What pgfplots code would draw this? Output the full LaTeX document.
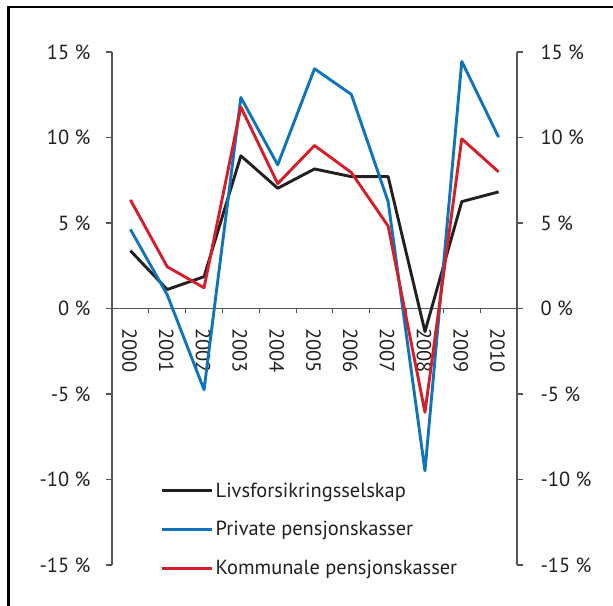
\documentclass[border=0pt]{standalone}
\usepackage{pgfplots}
\pgfplotsset{compat=1.18}
\usepackage{fontspec}
\setmainfont{PT Sans}
\definecolor{cblack}{RGB}{35,31,32}
\definecolor{cblue}{RGB}{16,116,188}
\definecolor{cred}{RGB}{214,30,42}
\definecolor{axgray}{RGB}{85,85,85}
\definecolor{txt}{RGB}{35,31,32}
\pgfplotstableread{
x  liv   priv   komm
0  3.38  4.63   6.35
1  1.11  0.80   2.44
2  1.86  -4.75  1.21
3  8.93  12.34  11.78
4  7.03  8.40   7.30
5  8.16  14.02  9.53
6  7.71  12.52  7.95
7  7.71  6.25   4.82
8  -1.35 -9.49  -6.07
9  6.25  14.45  9.92
10 6.82  10.02  7.99
}\datatable
\begin{document}
\begin{tikzpicture}[x=1bp,y=1bp]
\useasboundingbox (0,0) rectangle (613,606);
\draw[line width=2.8bp,black] (8.5,0) -- (8.5,599) -- (613,599);
\begin{axis}[
  at={(112bp,41bp)}, anchor=south west, scale only axis,
  width=405bp, height=513bp,
  xmin=-0.5, xmax=10.5, ymin=-15, ymax=15,
  axis x line*=middle, axis y line*=left,
  axis line style={axgray, line width=1.1bp, -},
  tick style={axgray, line width=1.1bp},
  tick align=outside,
  major tick length=6bp, minor tick length=5bp,
  xtick={0,...,10},
  xticklabels={2000,2001,2002,2003,2004,2005,2006,2007,2008,2009,2010},
  major x tick style={draw=none},
  minor xtick={-0.5,0.5,...,10.5},
  xticklabel style={rotate=-90, anchor=west, font=\fontsize{20.5}{22}\selectfont, text=txt, yshift=-1bp, xshift=10bp},
  ytick={-15,-10,-5,0,5,10,15},
  yticklabels={-15 \%,-10 \%,-5 \%,0 \%,5 \%,10 \%,15 \%},
  yticklabel style={font=\fontsize{20.5}{22}\selectfont, text=txt, xshift=-12bp},
  legend style={at={(rel axis cs:0.12,0.165)}, anchor=north west, draw=none, fill=none,
    font=\fontsize{20.5}{22}\selectfont, text=txt, row sep=19bp, inner sep=0pt},
  legend cell align=left,
  legend image code/.code={\draw[#1] (0bp,0bp) -- (50bp,0bp);},
  every axis plot/.append style={line width=2.9bp, line join=round},
  clip=false,
]
\addplot[cblack] table[x=x,y=liv]{\datatable};
\addlegendentry{Livsforsikringsselskap}
\addplot[cblue] table[x=x,y=priv]{\datatable};
\addlegendentry{Private pensjonskasser}
\addplot[cred] table[x=x,y=komm]{\datatable};
\addlegendentry{Kommunale pensjonskasser}
\end{axis}
\begin{axis}[
  at={(112bp,41bp)}, anchor=south west, scale only axis,
  width=405bp, height=513bp,
  xmin=-0.5, xmax=10.5, ymin=-15, ymax=15,
  axis x line=none, axis y line*=right,
  axis line style={axgray, line width=1.1bp, -},
  tick style={axgray, line width=1.1bp},
  tick align=outside, major tick length=6bp,
  xtick=\empty,
  ytick={-15,-10,-5,0,5,10,15},
  yticklabels={-15 \%,-10 \%,-5 \%,0 \%,5 \%,10 \%,15 \%},
  yticklabel style={font=\fontsize{20.5}{22}\selectfont, text=txt, xshift=14bp},
]
\addplot[draw=none] coordinates {(0,0)};
\end{axis}
\end{tikzpicture}
\end{document}
